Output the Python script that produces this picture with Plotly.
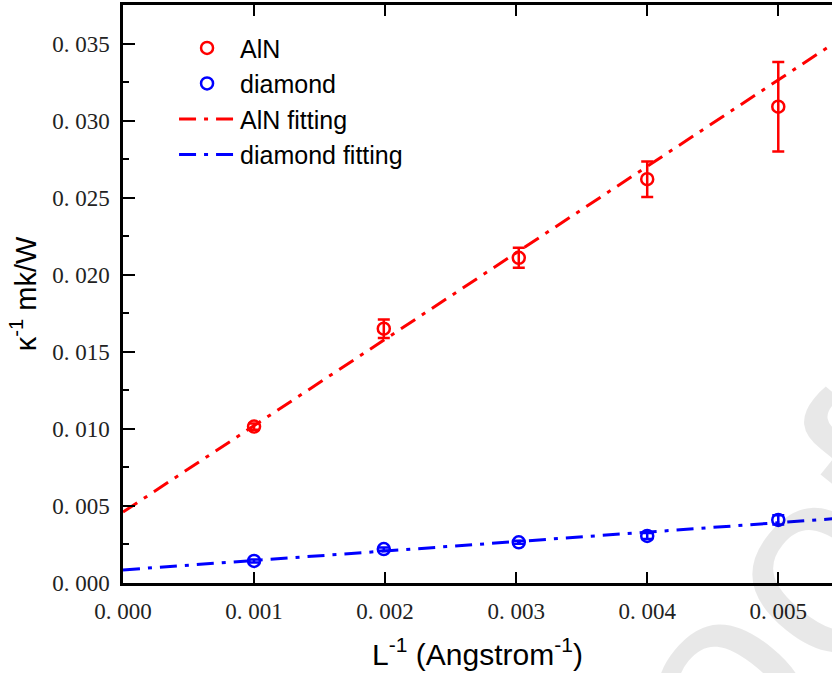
import plotly.graph_objects as go

# ---- data ----
x_aln = [0.001, 0.00199, 0.00302, 0.004, 0.005]
y_aln = [0.01015, 0.0165, 0.0211, 0.0262, 0.0309]
err_aln = [0.0002, 0.0006, 0.00065, 0.00115, 0.0029]

x_dia = [0.001, 0.00199, 0.00302, 0.004, 0.005]
y_dia = [0.00143, 0.00220, 0.00264, 0.00305, 0.00409]
err_dia = [0.0001, 0.0001, 0.0001, 0.0002, 0.0003]

fit_x = [0.0, 0.0056]
aln_fit_y = [0.0046, 0.0360]
dia_fit_y = [0.00085, 0.00428]

x_ticks = [0.000, 0.001, 0.002, 0.003, 0.004, 0.005]
x_ticktext = ["0. 000", "0. 001", "0. 002", "0. 003", "0. 004", "0. 005"]
y_ticks = [0.000, 0.005, 0.010, 0.015, 0.020, 0.025, 0.030, 0.035]
y_ticktext = ["0. 000", "0. 005", "0. 010", "0. 015", "0. 020", "0. 025", "0. 030", "0. 035"]

RED = "#ff0000"
BLUE = "#0000ff"
DASH = "17px,8px,4px,8px"
SANS = "Liberation Sans, Arial"
SERIF = "Liberation Serif, DejaVu Serif"

fig = go.Figure()
fig.add_trace(go.Scatter(
    x=x_aln, y=y_aln, mode="markers", name="AlN",
    marker=dict(symbol="circle-open", size=12, color=RED, line=dict(width=2.5, color=RED)),
    error_y=dict(type="data", array=err_aln, visible=True, color=RED, thickness=2.5, width=6),
))
fig.add_trace(go.Scatter(
    x=x_dia, y=y_dia, mode="markers", name="diamond",
    marker=dict(symbol="circle-open", size=12, color=BLUE, line=dict(width=2.5, color=BLUE)),
    error_y=dict(type="data", array=err_dia, visible=True, color=BLUE, thickness=2.5, width=6),
))
fig.add_trace(go.Scatter(
    x=fit_x, y=aln_fit_y, mode="lines", name="AlN fitting",
    line=dict(color=RED, width=3, dash=DASH),
))
fig.add_trace(go.Scatter(
    x=fit_x, y=dia_fit_y, mode="lines", name="diamond fitting",
    line=dict(color=BLUE, width=3, dash=DASH),
))

fig.update_layout(
    width=832, height=673,
    margin=dict(l=123, r=0, t=5, b=90),
    plot_bgcolor="white", paper_bgcolor="white",
    showlegend=True,
    legend=dict(
        x=0.072, y=0.965, xanchor="left", yanchor="top",
        bgcolor="rgba(0,0,0,0)",
        font=dict(family=SANS, size=25, color="black"),
        itemwidth=56,
    ),
    annotations=[dict(
        text="Proof", xref="paper", yref="paper", x=0.815, y=-0.204,
        xanchor="center", yanchor="middle", showarrow=False, textangle=-51,
        font=dict(family=SANS, size=270, color="rgba(0,0,0,0.09)"),
    )],
)

fig.update_xaxes(
    range=[0, 0.00541],
    tickmode="array", tickvals=x_ticks, ticktext=x_ticktext,
    ticks="inside", ticklen=11, tickwidth=2, tickcolor="black",
    showline=True, linewidth=2.5, linecolor="black", mirror="ticks",
    showgrid=False, zeroline=False,
    tickfont=dict(family=SERIF, size=23, color="#222"),
    ticklabelstandoff=6,
    title=dict(text="L<sup>-1</sup> (Angstrom<sup>-1</sup>)",
               font=dict(family=SANS, size=30, color="black"),
               standoff=21),
)
fig.update_yaxes(
    range=[0, 0.0375],
    tickmode="array", tickvals=y_ticks, ticktext=y_ticktext,
    ticks="inside", ticklen=12, tickwidth=2, tickcolor="black",
    minor=dict(dtick=0.0025, ticks="inside", ticklen=6, tickwidth=2, tickcolor="black", showgrid=False),
    showline=True, linewidth=2.5, linecolor="black", mirror=False,
    showgrid=False, zeroline=False,
    tickfont=dict(family=SERIF, size=23, color="#222"),
    ticklabelstandoff=6,
    title=dict(text="κ<sup>-1</sup> mk/W",
               font=dict(family=SANS, size=29, color="black"),
               standoff=8),
)

fig.write_html("out.html")
